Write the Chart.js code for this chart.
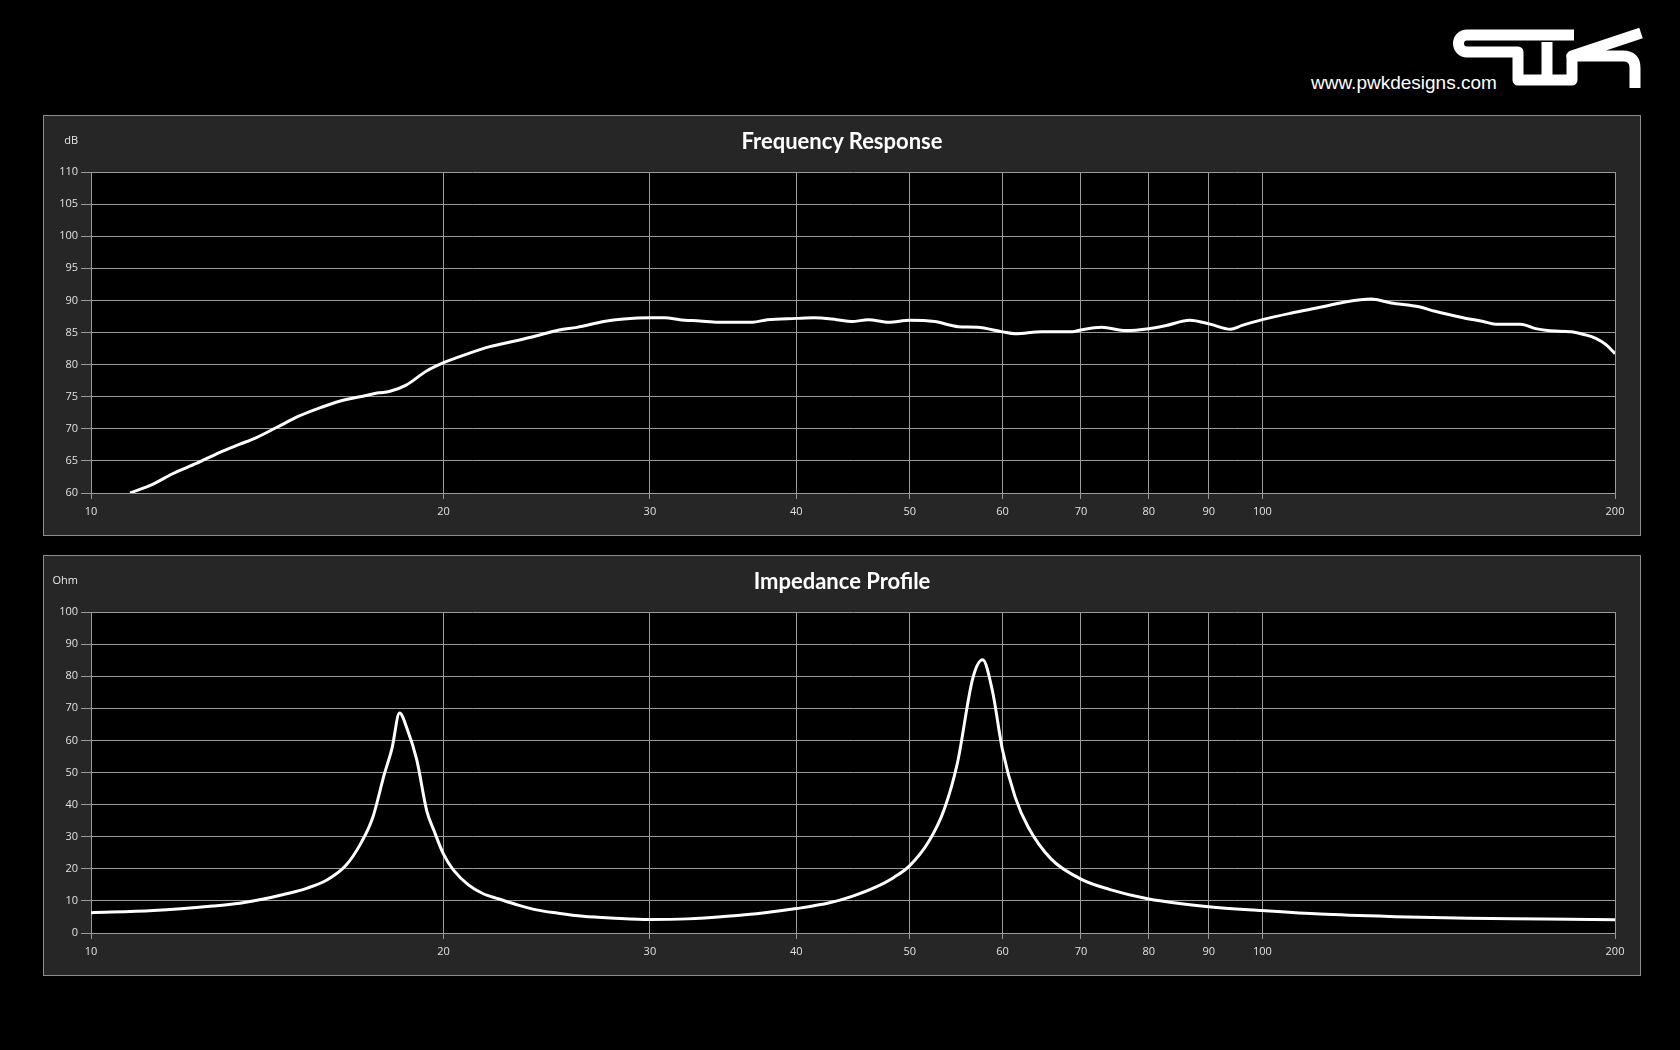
<!DOCTYPE html>
<html>
<head>
    <title>Frequency Response / Impedance Profile</title>
    <script src="https://cdn.jsdelivr.net/npm/chart.js@4.4.0/dist/chart.umd.min.js"></script>
    <style>
        body { margin: 0; background: #000; width: 1680px; height: 1050px; overflow: hidden; position: relative; font-family: 'Open Sans', sans-serif; }
        .panel { position: absolute; left: 43px; width: 1596px; height: 419px; border: 1px solid #8c8c8c; background: #262626; }
        .panel canvas { position: absolute; left: 0; top: 0; }
        .title { position: absolute; left: 0; top: 11px; width: 1596px; text-align: center; font: bold 22px Lato, sans-serif; color: #fff; }
        .unit { position: absolute; left: 0; top: 16px; width: 34px; text-align: right; font-size: 11px; color: #e6e6e6; }
        .site { position: absolute; left: 1311px; top: 73px; font: 19px 'Liberation Sans', Arial, sans-serif; line-height: 20px; color: #fff; }
        #logo { position: absolute; left: 0; top: 0; }
    </style>
</head>
<body>
    <svg id="logo" width="1680" height="100">
        <g fill="none" stroke="#fff" stroke-width="11" stroke-linejoin="round" transform="translate(1,4)">
            <path d="M1573,31 H1466 A8.5,8.5 0 0 0 1466,48 H1517 V76 H1571 V50" />
            <path d="M1546,38 V76" />
            <path d="M1640,29 L1571,52 H1622 Q1634,52 1634,64 V84" />
        </g>
    </svg>
    <div class="site">www.pwkdesigns.com</div>

    <div class="panel" style="top: 115px;">
        <canvas id="freqChart" width="1596" height="419"></canvas>
        <div class="title">Frequency Response</div>
        <div class="unit">dB</div>
    </div>

    <div class="panel" style="top: 555px;">
        <canvas id="impChart" width="1596" height="419"></canvas>
        <div class="title">Impedance Profile</div>
        <div class="unit">Ohm</div>
    </div>

    <script>
        // Data (Hz, dB / Ohm)
        const freqHz = [10.8, 11.3, 11.74, 12.3, 12.87, 13.4, 13.83, 14.4, 15.06, 15.7, 16.3, 17.17, 17.6, 17.97, 18.58, 19.34,
            20, 20.9, 21.9, 22.9, 23.8, 25.1, 26.0, 27.4, 28.5, 30, 30.9, 31.8, 33.1, 34.3, 36.7, 37.8, 40, 41.4, 43.3, 44.6,
            46.1, 48.0, 50, 52.5, 55.0, 57.1, 60, 61.5, 64.8, 68.8, 70, 72.9, 76.5, 80, 82.8, 86.7, 90.2, 93.9, 96.1, 100,
            105.7, 112.6, 118.0, 123.8, 128.8, 136.1, 140.4, 148.4, 154.4, 158.1, 166.2, 171.1, 175.2, 183.6, 188.1, 192.6, 196.5, 200];
        const freqDb = [60.0, 61.4, 63.0, 64.6, 66.3, 67.6, 68.6, 70.2, 72.0, 73.3, 74.3, 75.2, 75.6, 75.8, 76.8, 79.0,
            80.3, 81.6, 82.8, 83.6, 84.3, 85.4, 85.8, 86.7, 87.1, 87.3, 87.3, 87.0, 86.8, 86.6, 86.6, 87.0, 87.2, 87.3, 87.0, 86.7,
            87.0, 86.6, 86.9, 86.7, 85.9, 85.8, 85.1, 84.8, 85.1, 85.1, 85.4, 85.8, 85.3, 85.6, 86.1, 86.9, 86.3, 85.5, 86.1, 87.0,
            88.0, 89.0, 89.8, 90.2, 89.6, 89.0, 88.3, 87.3, 86.7, 86.3, 86.3, 85.6, 85.3, 85.1, 84.7, 84.1, 83.1, 81.7];

        const impHz = [10, 11.3, 12.7, 13.4, 14.0, 14.6, 15.3, 15.9, 16.5, 17.0, 17.4, 17.8, 18.07, 18.34, 18.62, 18.97, 19.35, 19.62,
            20, 20.4, 21.0, 21.6, 22.3, 23.2, 24.0, 25.0, 26.3, 28.0, 30, 32.3, 34.9, 37.6, 40, 42.7, 44.7, 46.7, 48.5,
            50, 51.9, 53.5, 54.9, 56.6, 57.7, 58.8, 60, 61.5, 63.1, 66.0, 70, 74, 80, 90, 100, 112, 130, 150, 174, 200];
        const impOhm = [6.3, 7.0, 8.4, 9.3, 10.5, 12.0, 14.0, 16.5, 21.0, 28.0, 36.0, 49.5, 57.5, 68.5, 63.5, 54.0, 38.0, 32.0,
            24.5, 19.5, 15.0, 12.3, 10.6, 8.6, 7.2, 6.2, 5.2, 4.6, 4.2, 4.4, 5.2, 6.3, 7.6, 9.4, 11.5, 14.2, 17.4,
            21.0, 28.5, 38.5, 52.8, 79.4, 85.1, 75.7, 57.0, 42.4, 33.0, 23.1, 16.8, 13.6, 10.6, 8.2, 7.0, 5.9, 5.1, 4.6, 4.4, 4.1];

        const xTickValues = [10, 20, 30, 40, 50, 60, 70, 80, 90, 100, 200];
        const dbTicks = [60, 65, 70, 75, 80, 85, 90, 95, 100, 105, 110];
        const ohmTicks = [0, 10, 20, 30, 40, 50, 60, 70, 80, 90, 100];

        const gridColor = '#9a9a9a';
        const tickFont = { family: 'Open Sans', size: 11 };

        // black plot area on the grey panel
        const plotBg = {
            id: 'plotBg',
            beforeDraw(chart) {
                const a = chart.chartArea;
                const ctx = chart.ctx;
                ctx.save();
                ctx.fillStyle = '#000';
                ctx.fillRect(a.left, a.top, a.right - a.left, a.bottom - a.top);
                ctx.restore();
            }
        };

        function makeChart(id, xs, ys, yTicks) {
            new Chart(document.getElementById(id), {
                type: 'line',
                data: {
                    datasets: [{
                        data: xs.map((x, i) => ({ x: x, y: ys[i] })),
                        borderColor: '#fff',
                        borderWidth: 3,
                        pointRadius: 0,
                        fill: false,
                        cubicInterpolationMode: 'monotone'
                    }]
                },
                options: {
                    responsive: false,
                    animation: false,
                    layout: { padding: { top: 56, right: 25, left: 0, bottom: 0 } },
                    plugins: { legend: { display: false }, tooltip: { enabled: false } },
                    scales: {
                        x: {
                            type: 'logarithmic',
                            min: xTickValues[0],
                            max: xTickValues[xTickValues.length - 1],
                            afterBuildTicks: s => { s.ticks = xTickValues.map(v => ({ value: v })); },
                            afterFit: s => { s.height = 42; },
                            ticks: { autoSkip: false, maxRotation: 0, color: '#e0e0e0', font: tickFont, padding: 6, callback: v => String(v) },
                            grid: { color: gridColor, tickColor: gridColor, tickLength: 6 },
                            border: { color: gridColor }
                        },
                        y: {
                            min: yTicks[0],
                            max: yTicks[yTicks.length - 1],
                            afterBuildTicks: s => { s.ticks = yTicks.map(v => ({ value: v })); },
                            afterFit: s => { s.width = 47; },
                            ticks: { color: '#e0e0e0', font: tickFont, padding: 3 },
                            grid: { color: gridColor, tickColor: gridColor, tickLength: 10 },
                            border: { color: gridColor }
                        }
                    }
                },
                plugins: [plotBg]
            });
        }

        makeChart('freqChart', freqHz, freqDb, dbTicks);
        makeChart('impChart', impHz, impOhm, ohmTicks);
    </script>
</body>
</html>
